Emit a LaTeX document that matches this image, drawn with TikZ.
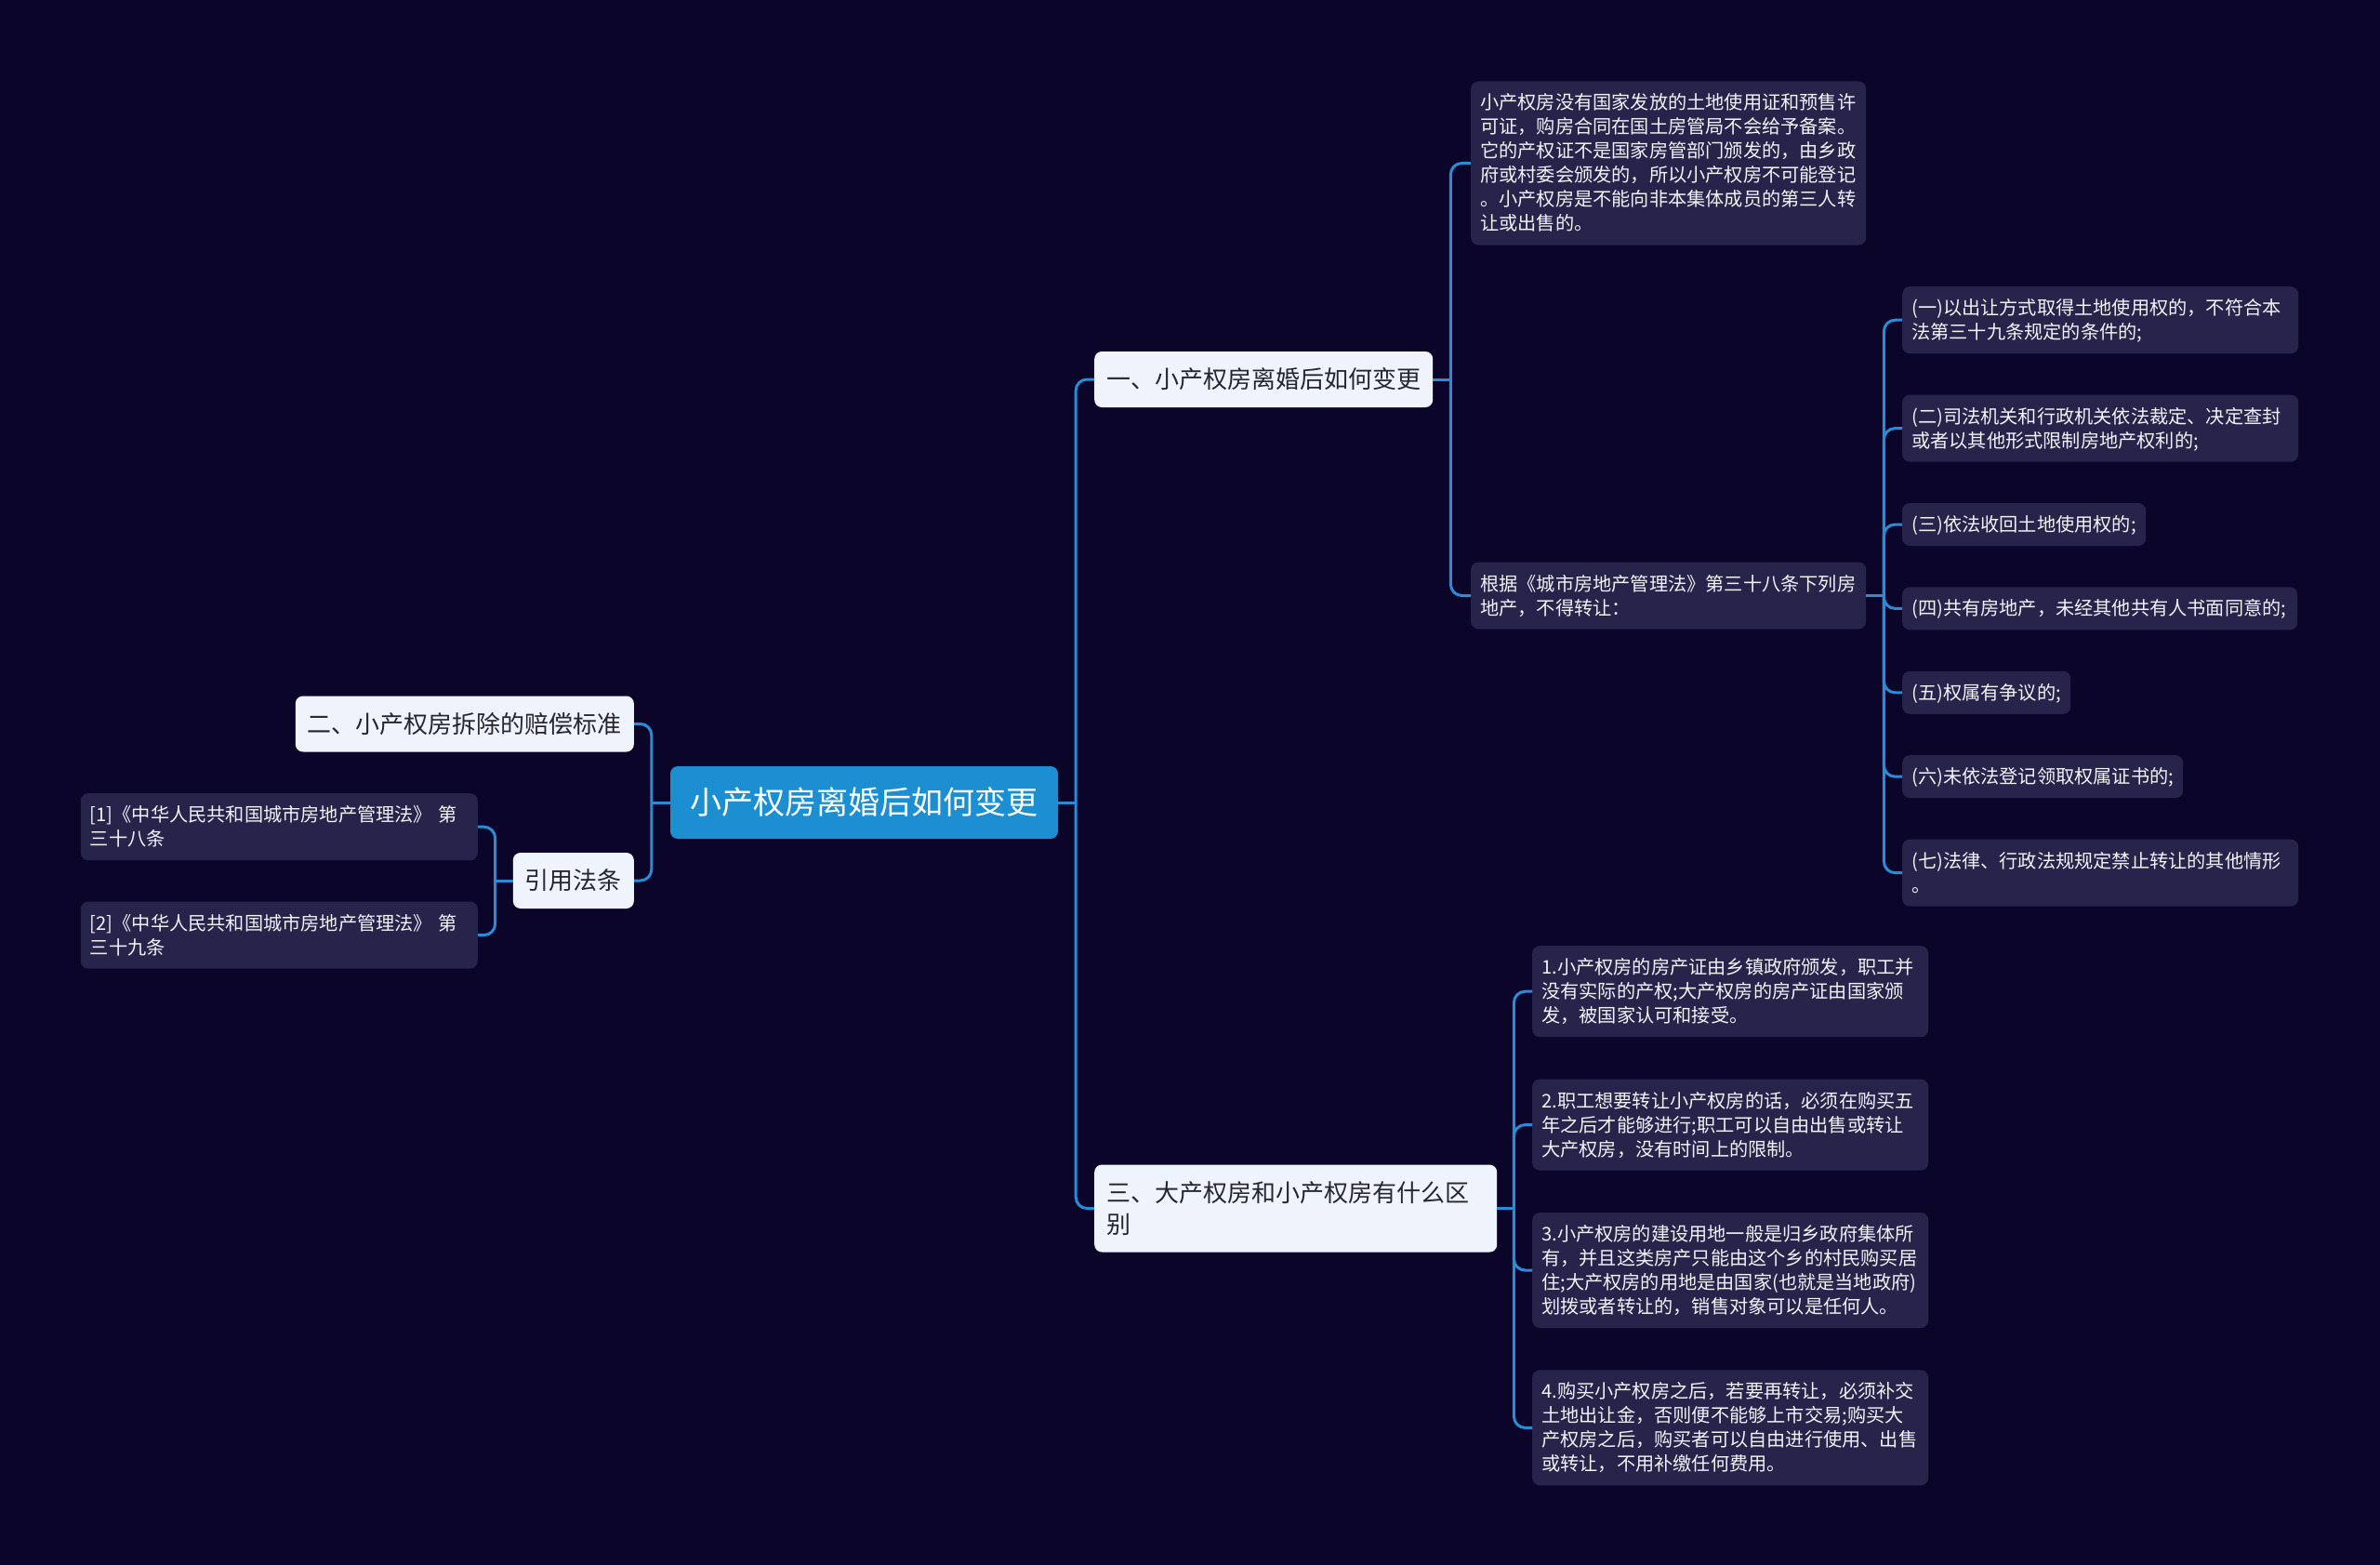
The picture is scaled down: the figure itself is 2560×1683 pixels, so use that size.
\documentclass[tikz,border=0pt]{standalone}
\usepackage{fontspec}
\setmainfont{Noto Sans CJK SC}
\usetikzlibrary{positioning}
\usepackage{xcolor}

\definecolor{fondo}{RGB}{11,6,41}
\definecolor{azul}{RGB}{28,143,210}
\definecolor{claro}{RGB}{238,243,252}
\definecolor{oscuro}{RGB}{38,38,46}
\definecolor{morado}{RGB}{39,35,75}
\definecolor{blanco}{RGB}{242,242,247}
\definecolor{linea}{RGB}{42,140,214}

\newcommand\hstrut{\rule[-5.5pt]{0pt}{26pt}}
\newcommand\tstrut{\rule[-7.25pt]{0pt}{34pt}}

\begin{document}
\begin{tikzpicture}[x=1pt, y=-1pt,
  node distance=44pt,
  raiz/.style={rectangle, rounded corners=8pt, fill=azul, text=white,
    font=\fontsize{34}{40}\selectfont, minimum width=417pt,
    minimum height=78pt, inner sep=0pt},
  tema/.style={rectangle, rounded corners=8pt, fill=claro, text=oscuro,
    font=\fontsize{26}{34}\selectfont, align=left, inner xsep=13pt,
    inner ysep=13pt, execute at begin node=\tstrut,
    execute at end node=\tstrut},
  hoja/.style={rectangle, rounded corners=8pt, fill=morado, text=blanco,
    font=\fontsize{20.2}{26}\selectfont, align=left, text width=#1,
    inner xsep=10pt, inner ysep=10pt, execute at begin node=\hstrut,
    execute at end node=\hstrut},
  hoja/.default=405pt,
  enlace/.style={draw=linea, line width=3pt, rounded corners=12pt}
]
  \useasboundingbox[fill=fondo] (0,0) rectangle (2560,1683);

  \node[raiz] (raiz) at (929.5,863) {小产权房离婚后如何变更};
  \node[tema, anchor=west] (tema1) at (1177,408) {一、小产权房离婚后如何变更};
  \node[tema, anchor=east] (tema2) at (682,778.5) {二、小产权房拆除的赔偿标准};
  \node[tema, anchor=west, text width=407pt] (tema3) at (1177,1299.5)
    {三、大产权房和小产权房有什么区\\别};
  \node[tema, anchor=east] (citas) at (682,947) {引用法条};

  \node[hoja, anchor=west] (nota1) at (1582,175.5)
    {小产权房没有国家发放的土地使用证和预售许\\可证，购房合同在国土房管局不会给予备案。\\它的产权证不是国家房管部门颁发的，由乡政\\府或村委会颁发的，所以小产权房不可能登记\\。小产权房是不能向非本集体成员的第三人转\\让或出售的。};
  \node[hoja, anchor=west] (nota2) at (1582,640.5)
    {根据《城市房地产管理法》第三十八条下列房\\地产，不得转让：};

  \node[hoja=406pt, anchor=north west] (caso1) at (2046,308)
    {(一)以出让方式取得土地使用权的，不符合本\\法第三十九条规定的条件的;};
  \node[hoja=406pt, below=of caso1.south west, anchor=north west] (caso2)
    {(二)司法机关和行政机关依法裁定、决定查封\\或者以其他形式限制房地产权利的;};
  \node[hoja=242pt, below=of caso2.south west, anchor=north west] (caso3)
    {(三)依法收回土地使用权的;};
  \node[hoja=405pt, below=of caso3.south west, anchor=north west] (caso4)
    {(四)共有房地产，未经其他共有人书面同意的;};
  \node[hoja=161pt, below=of caso4.south west, anchor=north west] (caso5)
    {(五)权属有争议的;};
  \node[hoja=282pt, below=of caso5.south west, anchor=north west] (caso6)
    {(六)未依法登记领取权属证书的;};
  \node[hoja=406pt, below=of caso6.south west, anchor=north west] (caso7)
    {(七)法律、行政法规规定禁止转让的其他情形\\。};

  \node[hoja=406pt, anchor=north west] (dif1) at (1648,1017)
    {1.小产权房的房产证由乡镇政府颁发，职工并\\没有实际的产权;大产权房的房产证由国家颁\\发，被国家认可和接受。};
  \node[hoja=406pt, below=45pt of dif1.south west, anchor=north west] (dif2)
    {2.职工想要转让小产权房的话，必须在购买五\\年之后才能够进行;职工可以自由出售或转让\\大产权房，没有时间上的限制。};
  \node[hoja=406pt, below=45pt of dif2.south west, anchor=north west] (dif3)
    {3.小产权房的建设用地一般是归乡政府集体所\\有，并且这类房产只能由这个乡的村民购买居\\住;大产权房的用地是由国家(也就是当地政府)\\划拨或者转让的，销售对象可以是任何人。};
  \node[hoja=406pt, below=45pt of dif3.south west, anchor=north west] (dif4)
    {4.购买小产权房之后，若要再转让，必须补交\\土地出让金，否则便不能够上市交易;购买大\\产权房之后，购买者可以自由进行使用、出售\\或转让，不用补缴任何费用。};

  \node[hoja=407pt, anchor=north east] (ley1) at (514,853)
    {[1]《中华人民共和国城市房地产管理法》 第\\三十八条};
  \node[hoja=407pt, below=of ley1.south east, anchor=north east] (ley2)
    {[2]《中华人民共和国城市房地产管理法》 第\\三十九条};

  % puntos de union
  \coordinate (uderecha) at ([xshift=19pt]raiz.east);
  \coordinate (uizquierda) at ([xshift=-20pt]raiz.west);
  \coordinate (utema1) at ([xshift=19pt]tema1.east);
  \coordinate (utema3) at ([xshift=18pt]tema3.east);
  \coordinate (unota2) at ([xshift=19pt]nota2.east);
  \coordinate (ucitas) at ([xshift=-19pt]citas.west);

  \draw[enlace] (raiz.east) -- (uderecha);
  \draw[enlace] (uderecha) |- (tema1.west);
  \draw[enlace] (uderecha) |- (tema3.west);
  \draw[enlace] (raiz.west) -- (uizquierda);
  \draw[enlace] (uizquierda) |- (tema2.east);
  \draw[enlace] (uizquierda) |- (citas.east);

  \draw[enlace] (tema1.east) -- (utema1);
  \draw[enlace] (utema1) |- (nota1.west);
  \draw[enlace] (utema1) |- (nota2.west);

  \draw[enlace] (nota2.east) -- (unota2);
  \draw[enlace] (unota2) |- (caso1.west);
  \draw[enlace] (unota2) |- (caso2.west);
  \draw[enlace] (unota2) |- (caso3.west);
  \draw[enlace] (unota2) |- (caso4.west);
  \draw[enlace] (unota2) |- (caso5.west);
  \draw[enlace] (unota2) |- (caso6.west);
  \draw[enlace] (unota2) |- (caso7.west);

  \draw[enlace] (tema3.east) -- (utema3);
  \draw[enlace] (utema3) |- (dif1.west);
  \draw[enlace] (utema3) |- (dif2.west);
  \draw[enlace] (utema3) |- (dif3.west);
  \draw[enlace] (utema3) |- (dif4.west);

  \draw[enlace] (citas.west) -- (ucitas);
  \draw[enlace] (ucitas) |- (ley1.east);
  \draw[enlace] (ucitas) |- (ley2.east);
\end{tikzpicture}
\end{document}
